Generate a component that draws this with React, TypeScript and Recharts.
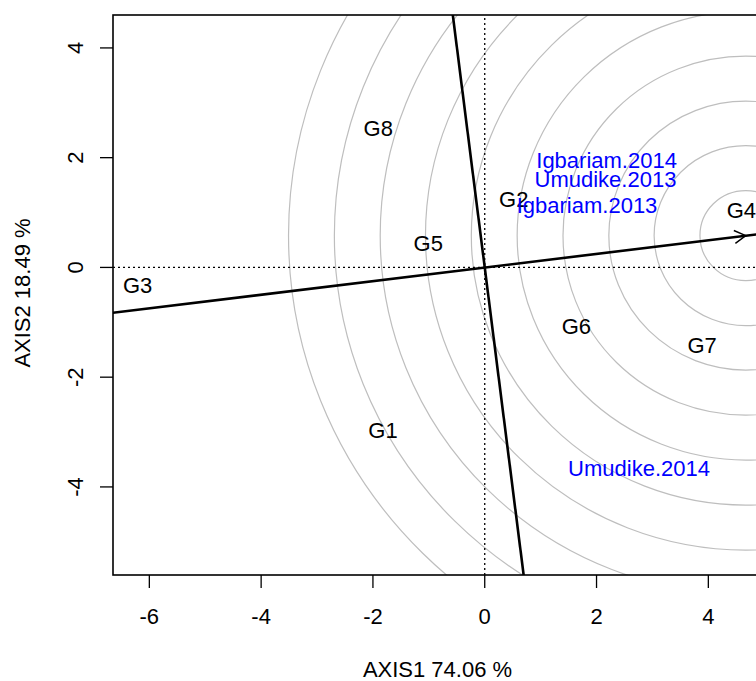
import React from 'react';
import * as R from 'recharts';

const RC: any = R;
const { ScatterChart, Scatter, XAxis, YAxis, ReferenceLine, ReferenceDot, Customized } = RC;

// ---- data ----
const genotypeNames = ['G1', 'G2', 'G3', 'G4', 'G5', 'G6', 'G7', 'G8'];
const genotypeX = [-1.82, 0.52, -6.21, 4.59, -1.01, 1.64, 3.89, -1.905];
const genotypeY = [-2.96, 1.24, -0.33, 1.04, 0.44, -1.07, -1.42, 2.53];

const envNames = ['Igbariam.2014', 'Umudike.2013', 'Igbariam.2013', 'Umudike.2014'];
const envX = [2.18, 2.16, 1.83, 2.76];
const envY = [1.95, 1.61, 1.13, -3.65];

const xTicks = [-6, -4, -2, 0, 2, 4];
const yTicks = [-4, -2, 0, 2, 4];
const xDomain = [-6.65, 4.96];
const yDomain = [-5.605, 4.6];

const idealPoint = { x: 4.67, y: 0.58 };
const ringRadii = [0.82, 1.64, 2.45, 3.27, 4.09, 4.91, 5.73, 6.54, 7.36, 8.18];
const aecAxis = [{ x: -7, y: -0.87 }, { x: 5.5, y: 0.68 }];
const aecPerp = [{ x: -0.621, y: 5 }, { x: 0.745, y: -6 }];

const xTitle = 'AXIS1 74.06 %';
const yTitle = 'AXIS2 18.49 %';

const genotypeData = genotypeNames.map((name, i) => ({ name, x: genotypeX[i], y: genotypeY[i] }));
const envData = envNames.map((name, i) => ({ name, x: envX[i], y: envY[i] }));

const FONT = '"Liberation Sans", Arial, Helvetica, sans-serif';
const FS = 22;

function usePlot() {
  const pa = RC.usePlotArea ? RC.usePlotArea() : null;
  return pa && pa.width ? pa : { x: 113, y: 15, width: 649, height: 560 };
}

function Rings() {
  const area = usePlot();
  const sx = (v: number) => area.x + ((v - xDomain[0]) / (xDomain[1] - xDomain[0])) * area.width;
  const sy = (v: number) => area.y + ((yDomain[1] - v) / (yDomain[1] - yDomain[0])) * area.height;
  const cx = sx(idealPoint.x);
  const cy = sy(idealPoint.y);
  return (
    <g>
      <defs>
        <clipPath id="ringClip">
          <rect x={area.x} y={area.y} width={area.width} height={area.height} />
        </clipPath>
      </defs>
      <g clipPath="url(#ringClip)">
        {ringRadii.map((r, i) => (
          <ellipse
            key={i}
            cx={cx}
            cy={cy}
            rx={sx(idealPoint.x + r) - cx}
            ry={cy - sy(idealPoint.y + r)}
            fill="none"
            stroke="#BEBEBE"
            strokeWidth={1.2}
          />
        ))}
      </g>
    </g>
  );
}

function Frame() {
  const area = usePlot();
  const midX = area.x + area.width / 2;
  const midY = area.y + area.height / 2;
  const yx = 22;
  return (
    <g>
      <rect x={area.x} y={area.y} width={area.width} height={area.height} fill="none" stroke="#000" strokeWidth={1.6} />
      <text x={midX} y={677} textAnchor="middle" fontSize={FS} fontFamily={FONT} fill="#000">
        {xTitle}
      </text>
      <text
        x={yx}
        y={midY - 2}
        dy="0.355em"
        textAnchor="middle"
        transform={`rotate(-90, ${yx}, ${midY - 2})`}
        fontSize={FS}
        fontFamily={FONT}
        fill="#000"
      >
        {yTitle}
      </text>
    </g>
  );
}

const XTick = (props: any) => {
  const { x, y, payload } = props;
  return (
    <text x={x} y={y + 36} textAnchor="middle" fontSize={FS} fontFamily={FONT} fill="#000">
      {payload.value}
    </text>
  );
};

const YTick = (props: any) => {
  const { x, y, payload } = props;
  const tx = x - 25;
  return (
    <text
      x={tx}
      y={y}
      dy="0.355em"
      textAnchor="middle"
      transform={`rotate(-90, ${tx}, ${y})`}
      fontSize={FS}
      fontFamily={FONT}
      fill="#000"
    >
      {payload.value}
    </text>
  );
};

const makeLabel = (color: string) => (props: any) => {
  const { cx, cy, payload } = props;
  return (
    <text x={cx} y={cy} dy="0.355em" textAnchor="middle" fontSize={FS} fontFamily={FONT} fill={color}>
      {payload.name}
    </text>
  );
};

const ArrowHead = (props: any) => {
  const { cx, cy } = props;
  const ang = Math.atan2(-31.8, 261);
  const len = 13;
  const spread = (30 * Math.PI) / 180;
  const a1 = ang + Math.PI - spread;
  const a2 = ang + Math.PI + spread;
  const d = `M${cx + len * Math.cos(a1)},${cy + len * Math.sin(a1)} L${cx},${cy} L${cx + len * Math.cos(a2)},${cy + len * Math.sin(a2)}`;
  return <path d={d} fill="none" stroke="#000" strokeWidth={1.4} />;
};

export default function App() {
  return (
    <div style={{ width: 740, height: 665 }}>
      <div
        style={{
          position: 'fixed',
          left: 0,
          top: 0,
          width: 756,
          height: 681,
          overflow: 'hidden',
          background: '#fff',
        }}
      >
        <ScatterChart width={800} height={681} margin={{ top: 15, right: 38, bottom: 0, left: 0 }}>
          <Customized component={<Rings />} />
          <XAxis
            type="number"
            dataKey="x"
            domain={xDomain}
            allowDataOverflow
            ticks={xTicks}
            height={106}
            axisLine={false}
            tickSize={13}
            tickMargin={0}
            tickLine={{ stroke: '#000', strokeWidth: 1.3 }}
            tick={<XTick />}
            interval={0}
          />
          <YAxis
            type="number"
            dataKey="y"
            domain={yDomain}
            allowDataOverflow
            ticks={yTicks}
            width={113}
            axisLine={false}
            tickSize={13}
            tickMargin={0}
            tickLine={{ stroke: '#000', strokeWidth: 1.3 }}
            tick={<YTick />}
            interval={0}
          />
          <ReferenceLine x={0} stroke="#000" strokeWidth={1.3} strokeDasharray="2 3" />
          <ReferenceLine y={0} stroke="#000" strokeWidth={1.3} strokeDasharray="2 3" />
          <ReferenceLine segment={aecAxis} ifOverflow="hidden" stroke="#000" strokeWidth={2.6} />
          <ReferenceLine segment={aecPerp} ifOverflow="hidden" stroke="#000" strokeWidth={2.6} />
          <ReferenceDot x={idealPoint.x} y={idealPoint.y} shape={<ArrowHead />} ifOverflow="visible" />
          <Scatter data={genotypeData} shape={makeLabel('#000')} isAnimationActive={false} />
          <Scatter data={envData} shape={makeLabel('#0000FF')} isAnimationActive={false} />
          <Customized component={<Frame />} />
        </ScatterChart>
      </div>
    </div>
  );
}
